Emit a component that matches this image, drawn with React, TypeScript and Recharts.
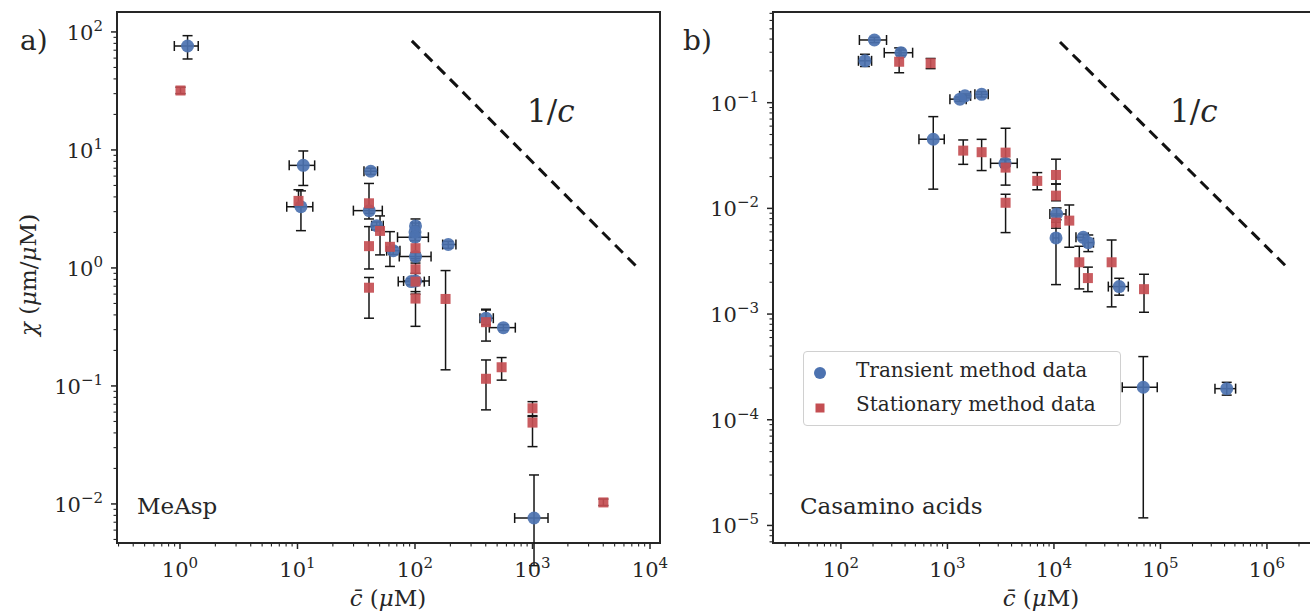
import { ScatterChart, Scatter, XAxis, YAxis, ErrorBar, ReferenceLine, ReferenceArea, Legend } from "recharts"

const INK = "#262626"
const BAR = "#151515"
const BLUE = "#4C72B0"
const RED = "#C44E52"
const FONT = "DejaVu Serif"

// MeAsp, transient method (c in uM, chi in um/uM, with error ranges)
const transientA = [
  { c: 1.16, chi: 76, cLo: 0.895, cHi: 1.43, chiLo: 59, chiHi: 93 },
  { c: 11.2, chi: 7.4, cLo: 8.5, cHi: 14.0, chiLo: 5.0, chiHi: 9.8 },
  { c: 10.7, chi: 3.3, cLo: 8.1, cHi: 13.5, chiLo: 2.07, chiHi: 4.5 },
  { c: 42, chi: 6.6, cLo: 36.8, cHi: 48, chiLo: 6.2, chiHi: 7.0 },
  { c: 40.8, chi: 3.06, cLo: 29.9, cHi: 52.7, chiLo: 2.9, chiHi: 3.2 },
  { c: 47.2, chi: 2.28, cLo: 42.8, cHi: 53.7, chiLo: 2.1, chiHi: 2.45 },
  { c: 65.3, chi: 1.4, cLo: 57.4, cHi: 74.5, chiLo: 1.3, chiHi: 1.5 },
  { c: 101, chi: 2.27, cLo: 95, cHi: 108, chiLo: 2.0, chiHi: 2.6 },
  { c: 100, chi: 2.02, cLo: 94, cHi: 107, chiLo: 1.85, chiHi: 2.2 },
  { c: 100, chi: 1.82, cLo: 71, cHi: 130, chiLo: 1.7, chiHi: 1.95 },
  { c: 101, chi: 1.25, cLo: 73.5, cHi: 137, chiLo: 1.15, chiHi: 1.35 },
  { c: 192, chi: 1.58, cLo: 172, cHi: 223, chiLo: 1.47, chiHi: 1.68 },
  { c: 93, chi: 0.766, cLo: 72, cHi: 120, chiLo: 0.72, chiHi: 0.81 },
  { c: 101, chi: 0.775, cLo: 80, cHi: 132, chiLo: 0.73, chiHi: 0.82 },
  { c: 402, chi: 0.375, cLo: 357, cHi: 464, chiLo: 0.33, chiHi: 0.447 },
  { c: 565, chi: 0.312, cLo: 429, cHi: 714, chiLo: 0.295, chiHi: 0.33 },
  { c: 1030, chi: 0.0076, cLo: 705, cHi: 1355, chiLo: 0.003, chiHi: 0.0176 },
]

// MeAsp, stationary method
const stationaryA = [
  { c: 1.01, chi: 31.9, chiLo: 30, chiHi: 34 },
  { c: 10.2, chi: 3.7, chiLo: 3.3, chiHi: 4.6 },
  { c: 40.6, chi: 3.53, chiLo: 2.6, chiHi: 5.2 },
  { c: 40.6, chi: 1.53, chiLo: 0.98, chiHi: 2.24 },
  { c: 40.6, chi: 0.68, chiLo: 0.375, chiHi: 0.83 },
  { c: 50.4, chi: 2.06, chiLo: 1.29, chiHi: 2.76 },
  { c: 61.2, chi: 1.51, chiLo: 1.03, chiHi: 2.03 },
  { c: 101, chi: 1.47, chiLo: 1.1, chiHi: 2.4 },
  { c: 101, chi: 0.975, chiLo: 0.75, chiHi: 1.2 },
  { c: 101, chi: 0.766, chiLo: 0.6, chiHi: 0.9 },
  { c: 101, chi: 0.55, chiLo: 0.32, chiHi: 0.63 },
  { c: 182, chi: 0.546, chiLo: 0.137, chiHi: 0.95 },
  { c: 402, chi: 0.347, chiLo: 0.24, chiHi: 0.44 },
  { c: 402, chi: 0.115, chiLo: 0.0627, chiHi: 0.166 },
  { c: 546, chi: 0.144, chiLo: 0.112, chiHi: 0.174 },
  { c: 1000, chi: 0.0647, chiLo: 0.055, chiHi: 0.0736 },
  { c: 1000, chi: 0.0489, chiLo: 0.0306, chiHi: 0.056 },
  { c: 4010, chi: 0.0103, chiLo: 0.0097, chiHi: 0.011 },
]

// Casamino acids, transient method
const transientB = [
  { c: 168, chi: 0.249, cLo: 146, cHi: 194, chiLo: 0.22, chiHi: 0.287 },
  { c: 206, chi: 0.392, cLo: 149, cHi: 268, chiLo: 0.37, chiHi: 0.415 },
  { c: 366, chi: 0.297, cLo: 255, cHi: 471, chiLo: 0.28, chiHi: 0.315 },
  { c: 1310, chi: 0.108, cLo: 1055, cHi: 1500, chiLo: 0.103, chiHi: 0.113 },
  { c: 1460, chi: 0.116, cLo: 1300, cHi: 1650, chiLo: 0.111, chiHi: 0.121 },
  { c: 2094, chi: 0.12, cLo: 1810, cHi: 2414, chiLo: 0.113, chiHi: 0.127 },
  { c: 736, chi: 0.0451, cLo: 540, cHi: 933, chiLo: 0.0152, chiHi: 0.0738 },
  { c: 3470, chi: 0.0267, cLo: 2540, cHi: 4520, chiLo: 0.0245, chiHi: 0.029 },
  { c: 10590, chi: 0.00885, cLo: 9160, cHi: 12970, chiLo: 0.0078, chiHi: 0.0101 },
  { c: 10450, chi: 0.00525, cLo: 9800, cHi: 11100, chiLo: 0.0019, chiHi: 0.0074 },
  { c: 18840, chi: 0.00532, cLo: 16100, cHi: 21000, chiLo: 0.005, chiHi: 0.0057 },
  { c: 21000, chi: 0.00474, cLo: 19500, cHi: 23500, chiLo: 0.0039, chiHi: 0.0056 },
  { c: 41000, chi: 0.00182, cLo: 32400, cHi: 49900, chiLo: 0.00151, chiHi: 0.00218 },
  { c: 69000, chi: 0.000203, cLo: 43800, cHi: 93300, chiLo: 0.0000118, chiHi: 0.000396 },
  { c: 419000, chi: 0.000197, cLo: 325000, cHi: 508000, chiLo: 0.000171, chiHi: 0.000226 },
]

// Casamino acids, stationary method
const stationaryB = [
  { c: 352, chi: 0.244, chiLo: 0.192, chiHi: 0.33 },
  { c: 695, chi: 0.236, chiLo: 0.21, chiHi: 0.262 },
  { c: 1406, chi: 0.0352, chiLo: 0.0261, chiHi: 0.0444 },
  { c: 2094, chi: 0.034, chiLo: 0.0228, chiHi: 0.045 },
  { c: 3515, chi: 0.0337, chiLo: 0.025, chiHi: 0.0573 },
  { c: 3515, chi: 0.0243, chiLo: 0.0166, chiHi: 0.029 },
  { c: 3515, chi: 0.0113, chiLo: 0.0059, chiHi: 0.0136 },
  { c: 6970, chi: 0.0182, chiLo: 0.015, chiHi: 0.0218 },
  { c: 10450, chi: 0.0207, chiLo: 0.017, chiHi: 0.0292 },
  { c: 10450, chi: 0.0132, chiLo: 0.0118, chiHi: 0.017 },
  { c: 10450, chi: 0.00733, chiLo: 0.0065, chiHi: 0.0085 },
  { c: 13930, chi: 0.00766, chiLo: 0.00429, chiHi: 0.01077 },
  { c: 17300, chi: 0.00309, chiLo: 0.00173, chiHi: 0.00438 },
  { c: 20840, chi: 0.00219, chiLo: 0.00163, chiHi: 0.00278 },
  { c: 34800, chi: 0.00309, chiLo: 0.00117, chiHi: 0.00502 },
  { c: 70100, chi: 0.00172, chiLo: 0.00104, chiHi: 0.00238 },
]

// 1/c guide lines
const guideA = [{ c: 94, chi: 84 }, { c: 7900, chi: 1.0 }]
const guideB = [{ c: 11400, chi: 0.375 }, { c: 1540000, chi: 0.00278 }]

// axis ranges (decades shown)
const xDomainA: [number, number] = [10 ** -0.536, 10 ** 4.085]
const yDomainA: [number, number] = [10 ** -2.331, 10 ** 2.169]
const xDomainB: [number, number] = [10 ** 1.362, 10 ** 6.423]
const yDomainB: [number, number] = [10 ** -5.166, 10 ** -0.142]

const decadesXA = [-1, 0, 1, 2, 3, 4]
const decadesYA = [-3, -2, -1, 0, 1, 2]
const decadesXB = [1, 2, 3, 4, 5, 6]
const decadesYB = [-6, -5, -4, -3, -2, -1]

function logTicks(decades: number[], domain: [number, number]) {
  const out: number[] = []
  decades.forEach((d) => {
    for (let m = 1; m < 10; m++) {
      const v = m * 10 ** d
      if (v >= domain[0] && v <= domain[1]) out.push(v)
    }
  })
  return out
}

function withErr(rows: any[]) {
  return rows.map((r) => ({
    ...r,
    ex: r.cLo != null ? [r.c - r.cLo, r.cHi - r.c] : undefined,
    ey: [r.chi - r.chiLo, r.chiHi - r.chi],
  }))
}

function expOf(v: number) {
  const l = Math.log10(v)
  const e = Math.round(l)
  return { e, major: Math.abs(l - e) < 1e-6 }
}

function expText(e: number) {
  return e < 0 ? "\u2212" + -e : String(e)
}

function XTick(props: any) {
  const { x, y, payload } = props
  const { e, major } = expOf(payload.value)
  return (
    <g>
      <line x1={x} x2={x} y1={y} y2={y + (major ? 6 : 3.5)} stroke={INK} strokeWidth={major ? 1.5 : 1.1} />
      {major && (
        <text x={x} y={y + 34} textAnchor="middle" fontFamily={FONT} fontSize={21} fill={INK}>
          10<tspan dy={-9} fontSize={15}>{expText(e)}</tspan>
        </text>
      )}
    </g>
  )
}

function YTick(props: any) {
  const { x, y, payload } = props
  const { e, major } = expOf(payload.value)
  return (
    <g>
      <line x1={x} x2={x - (major ? 6 : 3.5)} y1={y} y2={y} stroke={INK} strokeWidth={major ? 1.5 : 1.1} />
      {major && (
        <text x={x - 14} y={y + 8} textAnchor="end" fontFamily={FONT} fontSize={21} fill={INK}>
          10<tspan dy={-9} fontSize={15}>{expText(e)}</tspan>
        </text>
      )}
    </g>
  )
}

const dot = (p: any) => <circle cx={p.cx} cy={p.cy} r={6.5} fill={BLUE} fillOpacity={0.92} />
const square = (p: any) => <rect x={p.cx - 5} y={p.cy - 5} width={10} height={10} fill={RED} fillOpacity={0.92} />
const nothing = () => <g />

function LegendBox() {
  return (
    <div
      style={{
        width: 316,
        height: 73,
        border: "1px solid #d0d0d0",
        borderRadius: 4,
        background: "rgba(255,255,255,0.85)",
        fontFamily: FONT,
        fontSize: 20,
        color: INK,
        position: "relative",
      }}
    >
      <svg width={30} height={73} style={{ position: "absolute", left: 0, top: 0 }}>
        <circle cx={16} cy={21} r={6} fill={BLUE} />
        <rect x={11.5} y={51.5} width={9} height={9} fill={RED} />
      </svg>
      <div style={{ position: "absolute", left: 52, top: 6, whiteSpace: "nowrap" }}>Transient method data</div>
      <div style={{ position: "absolute", left: 52, top: 40, whiteSpace: "nowrap" }}>Stationary method data</div>
    </div>
  )
}

function Panel(props: {
  width: number
  right: number
  yWidth: number
  xDomain: [number, number]
  yDomain: [number, number]
  xTicks: number[]
  yTicks: number[]
  transient: any[]
  stationary: any[]
  guide: { c: number; chi: number }[]
  legend?: boolean
}) {
  const t = withErr(props.transient)
  const s = withErr(props.stationary)
  return (
    <ScatterChart width={props.width} height={615} margin={{ top: 12, right: props.right, bottom: 0, left: 0 }}>
      <XAxis
        type="number"
        dataKey="c"
        scale="log"
        domain={props.xDomain}
        allowDataOverflow
        ticks={props.xTicks}
        interval={0}
        tick={(p: any) => <XTick {...p} />}
        tickLine={false}
        axisLine={false}
        tickSize={0}
        tickMargin={0}
        height={72}
      />
      <YAxis
        type="number"
        dataKey="chi"
        scale="log"
        domain={props.yDomain}
        allowDataOverflow
        ticks={props.yTicks}
        interval={0}
        tick={(p: any) => <YTick {...p} />}
        tickLine={false}
        axisLine={false}
        tickSize={0}
        tickMargin={0}
        width={props.yWidth}
      />
      <ReferenceLine
        segment={[
          { x: props.guide[0].c, y: props.guide[0].chi },
          { x: props.guide[1].c, y: props.guide[1].chi },
        ]}
        stroke="#111"
        strokeWidth={3}
        strokeDasharray="11 7"
      />
      <Scatter data={t} shape={dot} isAnimationActive={false} />
      <Scatter data={s} shape={square} isAnimationActive={false} />
      <Scatter data={t} shape={nothing} isAnimationActive={false}>
        <ErrorBar dataKey="ey" direction="y" width={5} stroke={BAR} strokeWidth={1.5} />
        <ErrorBar dataKey="ex" direction="x" width={5} stroke={BAR} strokeWidth={1.5} />
      </Scatter>
      <Scatter data={s} shape={nothing} isAnimationActive={false}>
        <ErrorBar dataKey="ey" direction="y" width={5} stroke={BAR} strokeWidth={1.5} />
      </Scatter>
      <ReferenceArea
        x1={props.xDomain[0]}
        x2={props.xDomain[1]}
        y1={props.yDomain[0]}
        y2={props.yDomain[1]}
        fill="none"
        stroke={INK}
        strokeWidth={2}
        ifOverflow="visible"
      />
      {props.legend && (
        <Legend
          layout="vertical"
          verticalAlign="middle"
          align="center"
          wrapperStyle={{ position: "absolute", left: 123, top: 351, width: 318, height: 75 }}
          content={() => <LegendBox />}
        />
      )}
    </ScatterChart>
  )
}

export default function App() {
  return (
    <div style={{ position: "absolute", left: 0, top: 0, width: 1310, height: 615, overflow: "hidden", background: "#fff" }}>
      <div style={{ position: "absolute", left: 0, top: 0 }}>
        <Panel
          width={680}
          right={20}
          yWidth={117}
          xDomain={xDomainA}
          yDomain={yDomainA}
          xTicks={logTicks(decadesXA, xDomainA)}
          yTicks={logTicks(decadesYA, yDomainA)}
          transient={transientA}
          stationary={stationaryA}
          guide={guideA}
        />
      </div>
      <div style={{ position: "absolute", left: 680, top: 0 }}>
        <Panel
          width={632}
          right={0}
          yWidth={93}
          xDomain={xDomainB}
          yDomain={yDomainB}
          xTicks={logTicks(decadesXB, xDomainB)}
          yTicks={logTicks(decadesYB, yDomainB)}
          transient={transientB}
          stationary={stationaryB}
          guide={guideB}
          legend
        />
      </div>
      <svg width={1310} height={615} style={{ position: "absolute", left: 0, top: 0, pointerEvents: "none" }}>
        <g fontFamily={FONT} fill={INK}>
          <text x={20} y={50} fontSize={28}>a)</text>
          <text x={683} y={50} fontSize={28}>b)</text>
          <text x={527} y={122} fontSize={31}>1/<tspan fontStyle="italic">c</tspan></text>
          <text x={1170} y={122} fontSize={31}>1/<tspan fontStyle="italic">c</tspan></text>
          <text x={137} y={514} fontSize={23}>MeAsp</text>
          <text x={800} y={514} fontSize={23}>Casamino acids</text>
          <text x={388} y={606} fontSize={23} textAnchor="middle">
            <tspan fontStyle="italic">c̄</tspan> (<tspan fontStyle="italic">μ</tspan>M)
          </text>
          <text x={1041} y={606} fontSize={23} textAnchor="middle">
            <tspan fontStyle="italic">c̄</tspan> (<tspan fontStyle="italic">μ</tspan>M)
          </text>
          <text x={36} y={275} fontSize={23} textAnchor="middle" transform="rotate(-90 36 275)">
            <tspan fontStyle="italic">χ</tspan> (<tspan fontStyle="italic">μ</tspan>m/<tspan fontStyle="italic">μ</tspan>M)
          </text>
        </g>
      </svg>
    </div>
  )
}
